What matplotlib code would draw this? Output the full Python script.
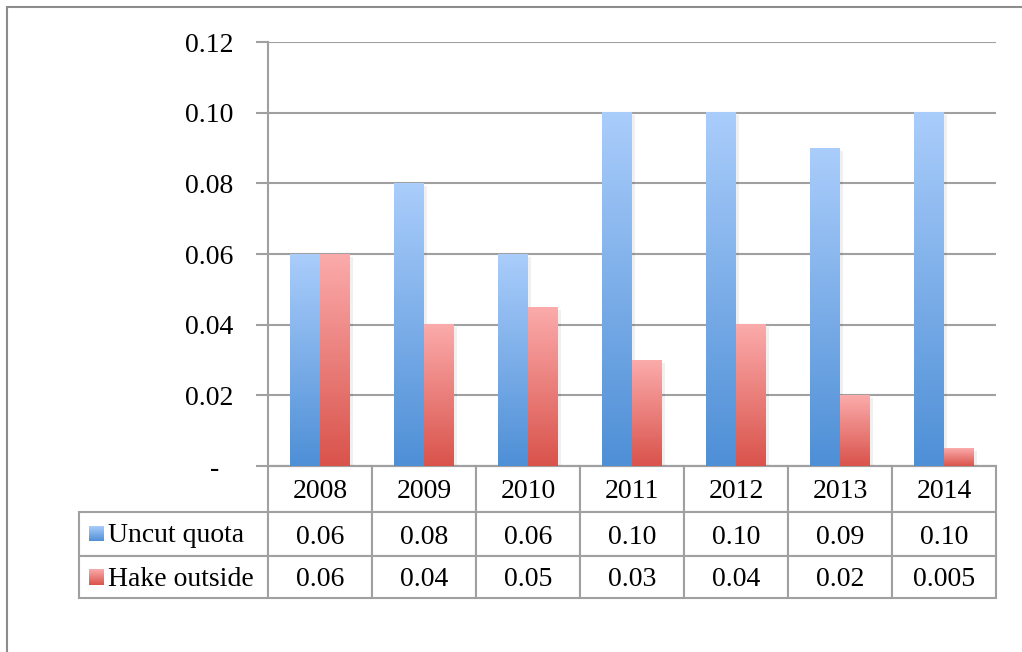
import numpy as np
import matplotlib.pyplot as plt
from matplotlib.colors import LinearSegmentedColormap
from matplotlib.patches import Rectangle

years = ['2008', '2009', '2010', '2011', '2012', '2013', '2014']
uncut_quota = [0.06, 0.08, 0.06, 0.10, 0.10, 0.09, 0.10]
hake_outside = [0.06, 0.04, 0.045, 0.03, 0.04, 0.02, 0.005]
uncut_text = ['0.06', '0.08', '0.06', '0.10', '0.10', '0.09', '0.10']
hake_text = ['0.06', '0.04', '0.05', '0.03', '0.04', '0.02', '0.005']
series_names = ['Uncut quota', 'Hake outside']

plt.rcParams['font.family'] = ['Liberation Serif', 'DejaVu Serif']
FS = 20
GRID = '#a0a0a0'

blue_cm = LinearSegmentedColormap.from_list('b', ['#4e8fd6', '#aacdfb'])
red_cm = LinearSegmentedColormap.from_list('r', ['#d9534b', '#fbabab'])
grad = np.linspace(0, 1, 256).reshape(-1, 1)

fig = plt.figure(figsize=(10.22, 6.52), dpi=100)
W, H = 1022, 652
ax = fig.add_axes([268 / W, 1 - 466 / H, 728 / W, 424 / H])

# outer chart frame
fig.patches.append(Rectangle((7 / W, -0.1), 1.2, 1.1 - 7 / H, transform=fig.transFigure,
                             fill=False, ec='#8c8c8c', lw=1.5))

x = np.arange(len(years))
bw = 30 / 104
b1 = ax.bar(x - bw / 2, uncut_quota, bw, color='none', zorder=2)
b2 = ax.bar(x + bw / 2, hake_outside, bw, color='none', zorder=2)

# shading for each bar
for bars, cm in [(b1, blue_cm), (b2, red_cm)]:
    for b in bars:
        x0, w, h = b.get_x(), b.get_width(), b.get_height()
        ax.add_patch(Rectangle((x0 + 0.025, 0), w, h - 0.0008, color='black', alpha=0.06, zorder=2.5, lw=0))
        ax.imshow(grad, extent=[x0, x0 + w, 0, h], origin='lower', aspect='auto', cmap=cm, zorder=3)

ax.set_xlim(-0.5, len(years) - 0.5)
ax.set_ylim(0, 0.12)
ax.set_xticks([])
yt = np.arange(0, 0.121, 0.02)
ax.set_yticks(yt)
ax.set_yticklabels(['-  '] + [f'{v:.2f}' for v in yt[1:]], fontsize=FS)
ax.tick_params(axis='y', length=9, color=GRID, width=1.5, pad=16)
ax.yaxis.grid(True, color=GRID, lw=1.5)
ax.set_axisbelow(True)
for s in ['top', 'right']:
    ax.spines[s].set_visible(False)
for s in ['left', 'bottom']:
    ax.spines[s].set_color(GRID)
    ax.spines[s].set_linewidth(1.5)

# data table below the plot
label_w = 189 / 728
col_w = 1 / len(years)
cells = [[''] + years, [''] + uncut_text, [''] + hake_text]
tbl = ax.table(cellText=cells, colWidths=[label_w] + [col_w] * len(years),
               cellLoc='center', bbox=[-label_w, -132 / 424, 1 + label_w, 132 / 424])
tbl.auto_set_font_size(False)
tbl.set_fontsize(FS)
row_h = [46, 44, 42]
for (r, c), cell in tbl.get_celld().items():
    cell.set_edgecolor(GRID)
    cell.set_linewidth(1.5)
    cell.set_height(row_h[r])
    cell.get_text().set_fontfamily(['Liberation Serif'])
    cell.get_text().set_va('center_baseline')
tbl[0, 0].visible_edges = ''

# row labels with legend keys
for i, (name, cm) in enumerate([(series_names[0], blue_cm), (series_names[1], red_cm)]):
    yc = [532, 576][i]
    ax.imshow(grad, extent=[(89 - 268) / 728, (104 - 268) / 728,
                            (466 - yc - 9) / 424, (466 - yc + 6) / 424],
              origin='lower', aspect='auto', cmap=cm, transform=ax.transAxes, clip_on=False)
    ax.text((108 - 268) / 728, (466 - yc) / 424, name, transform=ax.transAxes,
            fontsize=FS, ha='left', va='center_baseline')

ax.set_xlim(-0.5, len(years) - 0.5)
ax.set_ylim(0, 0.12)

fig.savefig('out.png', dpi=100)
